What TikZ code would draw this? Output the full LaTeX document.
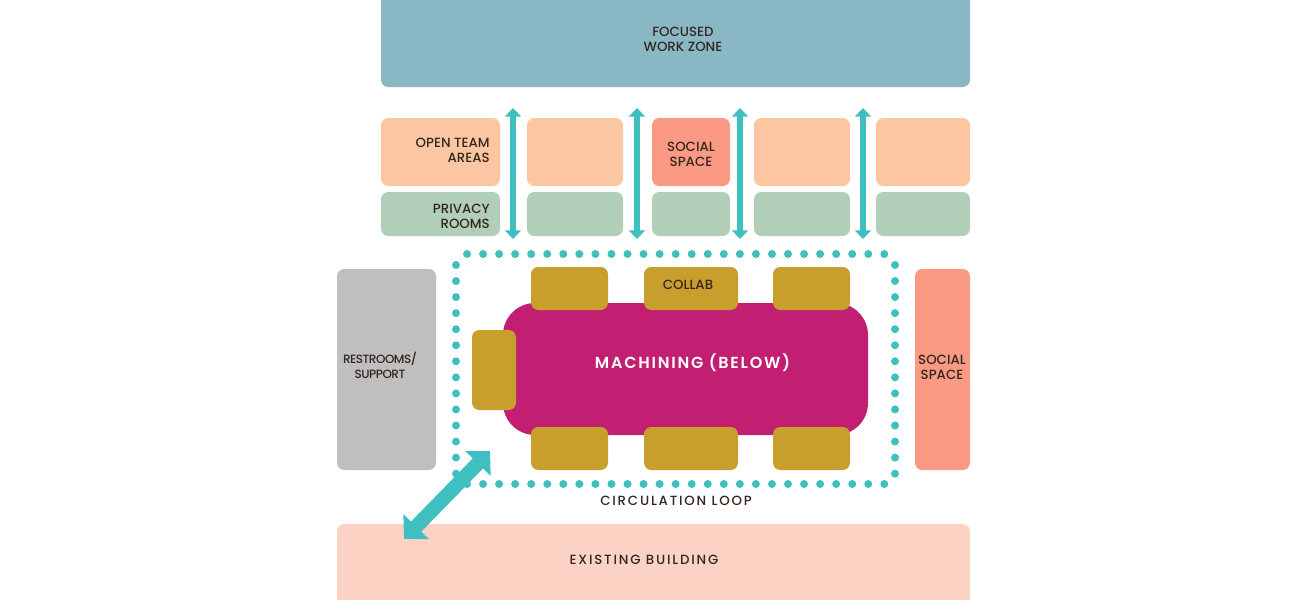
\documentclass[tikz,border=0pt]{standalone}
\usepackage{fontspec}
\setmainfont{Poppins Medium}
\newfontfamily\heavyfont{Poppins SemiBold}[LetterSpace=11]
\newfontfamily\trackedfont{Poppins Medium}[LetterSpace=13.5]
\newfontfamily\tightfont{Poppins Medium}[LetterSpace=-4]
\usetikzlibrary{arrows.meta}
\definecolor{cBlue}{HTML}{8AB7C4}
\definecolor{cPeach}{HTML}{FBC6A1}
\definecolor{cCoral}{HTML}{FB9A84}
\definecolor{cGreen}{HTML}{B1CEB9}
\definecolor{cGrey}{HTML}{BFBFBF}
\definecolor{cMag}{HTML}{C21F72}
\definecolor{cGold}{HTML}{C89E2C}
\definecolor{cPink}{HTML}{FCD2C5}
\definecolor{cTeal}{HTML}{40BFC1}
\definecolor{cInk}{HTML}{33261F}
\tikzset{
  x=0.75pt,y=-0.75pt,
  zone/.style={rounded corners=5.5pt,inner sep=0pt,align=center,text=cInk,font=\fontsize{10}{11.3}\selectfont},
  tracked/.style={zone,font=\trackedfont\fontsize{10}{11.3}\selectfont},
  updown/.style={line width=4.4pt,cTeal,{Triangle[length=6.5pt,width=12pt]}-{Triangle[length=6.5pt,width=12pt]}},
  diag/.style={line width=10.8pt,cTeal,{Triangle[length=13pt,width=26pt]}-{Triangle[length=13pt,width=26pt]}},
  dot/.style={circle,fill=cTeal,inner sep=0pt,minimum size=6pt},
}
\newcommand{\zonebox}[8]{% name, x0,y0,x1,y1, fill, align opts, text
  \pgfmathsetmacro{\zcx}{(#2+#4)/2}\pgfmathsetmacro{\zcy}{(#3+#5)/2}
  \pgfmathsetmacro{\zw}{(#4-#2)*0.75}\pgfmathsetmacro{\zh}{(#5-#3)*0.75}
  \node[zone,fill=#6,minimum width=\zw pt,minimum height=\zh pt,#7] (#1) at (\zcx,\zcy) {#8};
}
\begin{document}
\begin{tikzpicture}
\useasboundingbox (0,0) rectangle (1300,600);
\fill[white] (0,0) rectangle (1300,600);
\begin{scope}
\clip (0,0) rectangle (1300,600);
\zonebox{focus}{381}{-12}{970}{87}{cBlue}{}{}
\node[zone] (focustext) at (683,39.5) {FOCUSED\\WORK ZONE};
\zonebox{exist}{337}{524}{970}{612}{cPink}{}{}
\node[tracked] (existtext) at (644,559.5) {EXISTING BUILDING};
\end{scope}
% top row
\zonebox{open1}{381}{118}{500}{186}{cPeach}{}{}
\node[zone,align=right,anchor=east] (open1t) at (490,150.5) {OPEN TEAM\\AREAS};
\zonebox{open2}{527}{118}{623}{186}{cPeach}{}{}
\zonebox{soc1}{652}{118}{730}{186}{cCoral}{}{}
\node[zone] (soc1t) at (691,154) {SOCIAL\\SPACE};
\zonebox{open3}{754}{118}{850}{186}{cPeach}{}{}
\zonebox{open4}{876}{118}{970}{186}{cPeach}{}{}
% privacy row
\zonebox{priv1}{381}{192}{500}{236}{cGreen}{}{}
\node[zone,align=right,anchor=east] (priv1t) at (490,216) {PRIVACY\\ROOMS};
\zonebox{priv2}{527}{192}{623}{236}{cGreen}{}{}
\zonebox{priv3}{652}{192}{730}{236}{cGreen}{}{}
\zonebox{priv4}{754}{192}{850}{236}{cGreen}{}{}
\zonebox{priv5}{876}{192}{970}{236}{cGreen}{}{}
% vertical arrows
\foreach \n/\x in {a/513,b/637,c/740,d/863}{
  \coordinate (up\n) at (\x,108);
  \coordinate (dn\n) at (\x,239);
  \draw[updown] (up\n) -- (dn\n);
}
% side blocks
\zonebox{rest}{337}{269}{436}{470}{cGrey}{}{}
\node[zone,font=\tightfont\fontsize{9}{11.3}\selectfont] (restt) at (380,365) {RESTROOMS/\\SUPPORT};
\zonebox{soc2}{915}{269}{970}{470}{cCoral}{}{}
\node[zone] (soc2t) at (942,367) {SOCIAL\\SPACE};
% dotted loop
\foreach \i in {0,...,26}{\node[dot] (t\i) at ({467+16.05*\i},254) {};}
\foreach \i in {0,...,26}{\node[dot] (b\i) at ({467+16.05*\i},484) {};}
\foreach \i in {0,...,13}{\node[dot] (l\i) at (456,{265+16.05*\i}) {};}
\foreach \i in {0,...,13}{\node[dot] (r\i) at (895,{265+16.05*\i}) {};}
% machining
\zonebox{mach}{503}{303}{868}{435}{cMag}{rounded corners=24pt}{}
\node[text=white,font=\heavyfont\fontsize{12}{14}\selectfont] (machtext) at (692.5,363) {MACHINING (BELOW)};
\zonebox{g1}{531}{267}{608}{310}{cGold}{}{}
\zonebox{g2}{644}{267}{738}{310}{cGold}{}{}
\node[zone] (g2t) at (688,285) {COLLAB};
\zonebox{g3}{773}{267}{850}{310}{cGold}{}{}
\zonebox{g4}{472}{330}{516}{410}{cGold}{}{}
\zonebox{g5}{531}{427}{608}{470}{cGold}{}{}
\zonebox{g6}{644}{427}{738}{470}{cGold}{}{}
\zonebox{g7}{773}{427}{850}{470}{cGold}{}{}
% diagonal
\coordinate (dia1) at (490,451);
\coordinate (dia2) at (404,539);
\draw[diag] (dia1) -- (dia2);
\node[tracked] (loop) at (676,501) {CIRCULATION LOOP};
\end{tikzpicture}
\end{document}
